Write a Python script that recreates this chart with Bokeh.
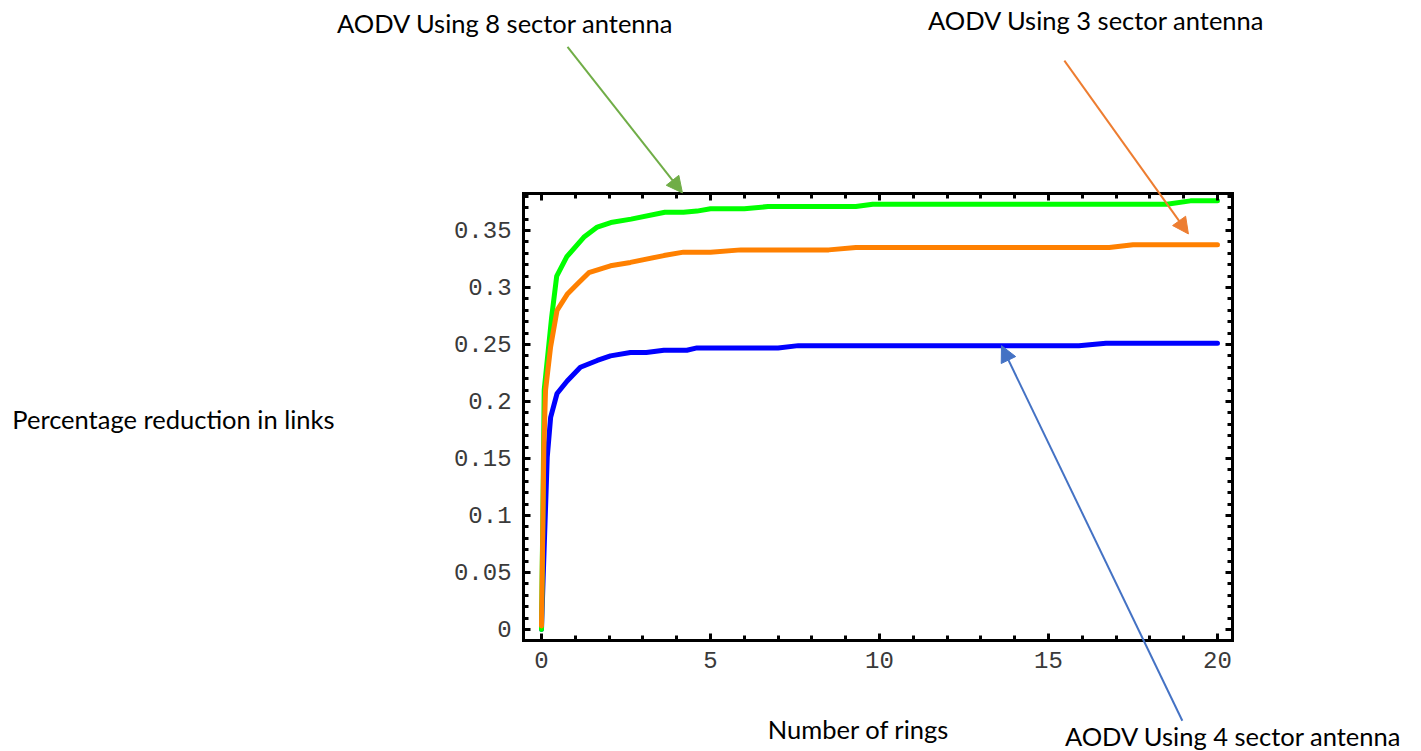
from bokeh.plotting import figure
from bokeh.models import (LinearAxis, FixedTicker, Label, Arrow, NormalHead, Range1d)
from bokeh.embed import file_html
from bokeh.resources import INLINE

# ---------------- data ----------------
green_x = [0, 0.04, 0.08, 0.3, 0.45, 0.75, 1.25, 1.65, 2.05, 2.65, 3.65, 4.2, 4.6, 5.0, 6.0, 6.7, 9.3, 9.8, 18.5, 19.2, 20]
green_y = [0, 0.10, 0.21, 0.274, 0.310, 0.327, 0.344, 0.353, 0.357, 0.360, 0.366, 0.366, 0.367, 0.369, 0.369, 0.371, 0.371, 0.373, 0.373, 0.376, 0.376]

orange_x = [0, 0.03, 0.07, 0.12, 0.27, 0.46, 0.76, 1.06, 1.4, 2.04, 2.63, 3.62, 4.2, 5.0, 5.9, 8.5, 9.3, 16.8, 17.5, 20]
orange_y = [0.003, 0.07, 0.16, 0.21, 0.248, 0.28, 0.294, 0.303, 0.313, 0.319, 0.322, 0.328, 0.331, 0.331, 0.333, 0.333, 0.335, 0.335, 0.3375, 0.3375]

blue_x = [0, 0.05, 0.17, 0.27, 0.46, 0.76, 1.15, 1.65, 2.04, 2.63, 3.1, 3.62, 4.3, 4.6, 7.0, 7.6, 15.9, 16.7, 20]
blue_y = [0, 0.046, 0.151, 0.186, 0.207, 0.218, 0.23, 0.236, 0.24, 0.243, 0.243, 0.245, 0.245, 0.247, 0.247, 0.249, 0.249, 0.251, 0.251]

x_ticks = [0, 5, 10, 15, 20]
x_tick_labels = ["0", "5", "10", "15", "20"]
y_ticks = [0, 0.05, 0.1, 0.15, 0.2, 0.25, 0.3, 0.35]
y_tick_labels = ["0", "0.05", "0.1", "0.15", "0.2", "0.25", "0.3", "0.35"]
x_minor = list(range(0, 21))
y_minor = [i / 100 for i in range(0, 39)]

# plot box (data units)
X0, X1 = -0.53, 20.44
Y0, Y1 = -0.0096, 0.3825

p = figure(width=1421, height=751,
           min_border=0,
           x_range=Range1d(-16.006, 26.036), y_range=Range1d(-0.10702, 0.55175),
           output_backend="svg", toolbar_location=None,
           x_axis_location=None, y_axis_location=None)
p.grid.visible = False
p.outline_line_color = None
p.background_fill_color = "white"
p.border_fill_color = "white"

xt = FixedTicker(ticks=x_ticks, minor_ticks=x_minor)
yt = FixedTicker(ticks=y_ticks, minor_ticks=y_minor)


def style(ax, labels):
    ax.axis_line_color = "black"
    ax.axis_line_width = 3
    ax.axis_line_cap = "square"
    ax.major_tick_line_color = "black"
    ax.major_tick_line_width = 3
    ax.minor_tick_line_color = "black"
    ax.minor_tick_line_width = 3
    ax.major_tick_in = 7
    ax.major_tick_out = 0
    ax.minor_tick_in = 5
    ax.minor_tick_out = 0
    if labels:
        ax.major_label_text_font = "Liberation Mono"
        ax.major_label_text_font_size = "24px"
        ax.major_label_text_color = "#3a3a3a"
        ax.major_label_standoff = 12
    else:
        ax.major_label_text_color = None
        ax.major_label_standoff = 0


bottom = LinearAxis(ticker=xt, fixed_location=Y0, bounds=(X0, X1),
                    major_label_overrides=dict(zip(x_ticks, x_tick_labels)))
style(bottom, True)
p.add_layout(bottom, "below")
top = LinearAxis(ticker=xt, fixed_location=Y1, bounds=(X0, X1))
style(top, False)
p.add_layout(top, "above")
left = LinearAxis(ticker=yt, fixed_location=X0, bounds=(Y0, Y1),
                  major_label_overrides=dict(zip(y_ticks, y_tick_labels)))
style(left, True)
p.add_layout(left, "left")
right = LinearAxis(ticker=yt, fixed_location=X1, bounds=(Y0, Y1))
style(right, False)
p.add_layout(right, "right")

p.line(blue_x, blue_y, line_color="#0000FF", line_width=5, line_cap="round", line_join="round")
p.line(green_x, green_y, line_color="#00FF00", line_width=5, line_cap="round", line_join="round")
p.line(orange_x, orange_y, line_color="#FF8000", line_width=5, line_cap="round", line_join="round")

# ---------------- annotations ----------------
font = "Lato"
fs = "25.5px"

def lab(x, y, t):
    p.add_layout(Label(x=x, y=y, text=t, text_font=font, text_font_size=fs,
                       text_color="black", text_align="center", text_baseline="middle"))

lab(-1.065, 0.532, "AODV Using 8 sector antenna")
lab(16.42, 0.535, "AODV Using 3 sector antenna")
lab(20.47, -0.0935, "AODV Using 4 sector antenna")
lab(-10.89, 0.185, "Percentage reduction in links")
lab(9.38, -0.087, "Number of rings")

def arr(x0, y0, x1, y1, c):
    p.add_layout(Arrow(x_start=x0, y_start=y0, x_end=x1, y_end=y1,
                       line_color=c, line_width=2,
                       end=NormalHead(size=16, fill_color=c, line_color=c)))

arr(0.77, 0.511, 4.17, 0.383, "#70AD47")
arr(15.47, 0.499, 19.14, 0.347, "#ED7D31")
arr(18.96, -0.080, 13.61, 0.249, "#4472C4")

open("out.html", "w").write(file_html(p, INLINE))
